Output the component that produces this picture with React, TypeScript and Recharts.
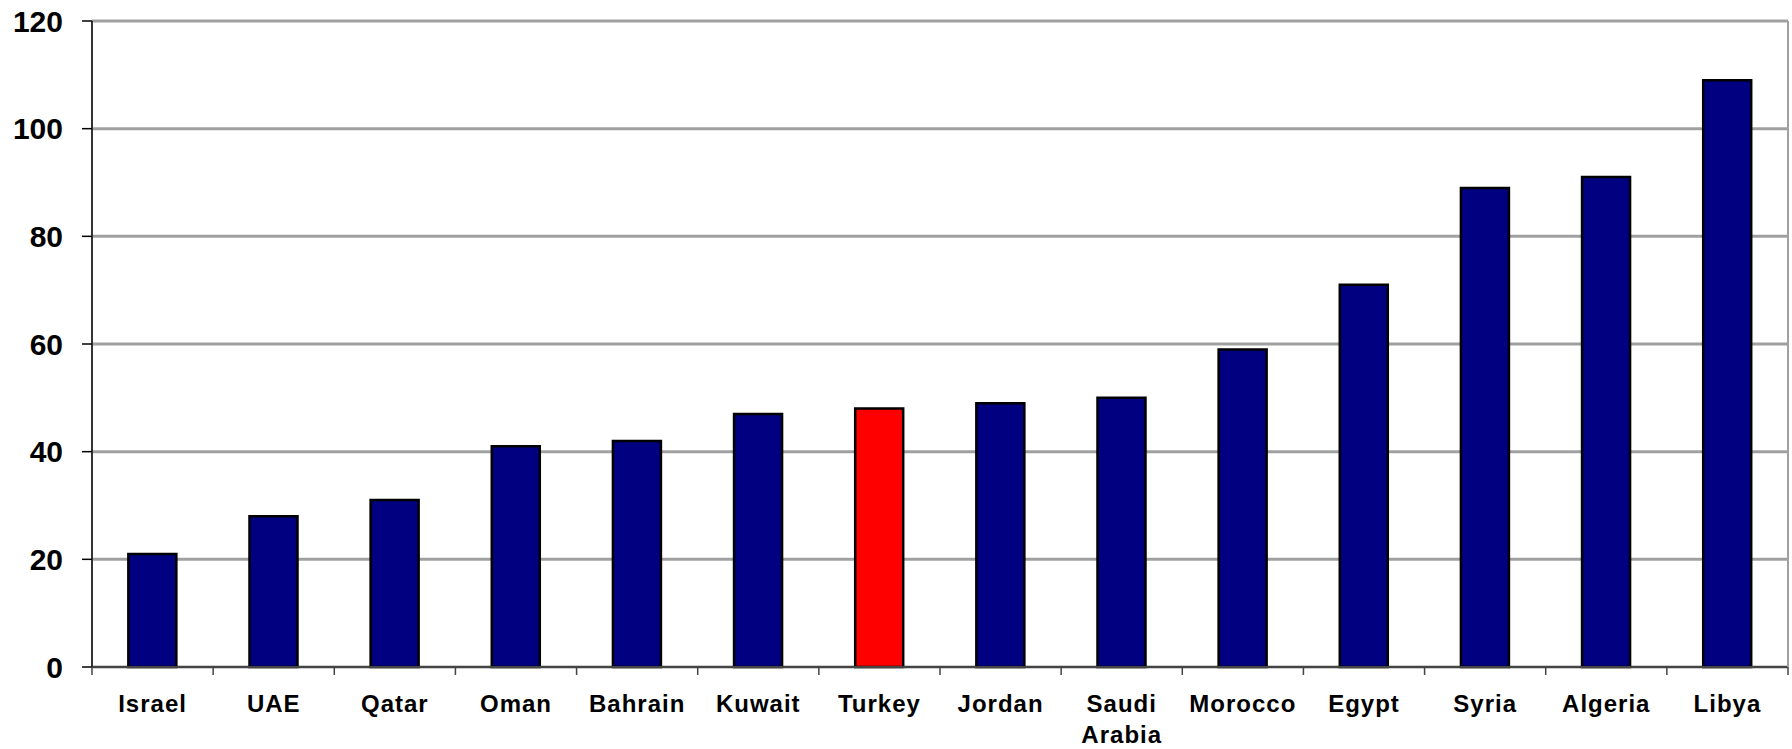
import React from 'react';
import { BarChart, Bar, Cell, XAxis, YAxis, CartesianGrid } from 'recharts';

const countries = ['Israel', 'UAE', 'Qatar', 'Oman', 'Bahrain', 'Kuwait', 'Turkey', 'Jordan', 'Saudi Arabia', 'Morocco', 'Egypt', 'Syria', 'Algeria', 'Libya'];
const values = [21, 28, 31, 41, 42, 47, 48, 49, 50, 59, 71, 89, 91, 109];
const yTicks = [0, 20, 40, 60, 80, 100, 120];
const highlight = 'Turkey';

const WIDTH = 1792;
const HEIGHT = 749;
const Y_AXIS_W = 92;
const RIGHT_W = 4;
const X_AXIS_H = 82;
const FONT = '"Liberation Sans", Arial, sans-serif';

const band = (WIDTH - Y_AXIS_W - RIGHT_W) / countries.length;

const data = countries.map((name, i) => ({ name, value: values[i] }));

// category labels, with the tick marks sitting on the boundaries between bars
const CountryTick = (props: any) => {
  const { x, y, payload, index } = props;
  const half = band / 2;
  const lines = String(payload.value).split(' ');
  return (
    <g>
      <line x1={x - half} y1={y} x2={x - half} y2={y + 8} stroke="#444" strokeWidth={1.5} />
      {index === countries.length - 1 && (
        <line x1={x + half} y1={y} x2={x + half} y2={y + 8} stroke="#444" strokeWidth={1.5} />
      )}
      <text
        x={x}
        y={y + 45}
        textAnchor="middle"
        fill="#000"
        fontFamily={FONT}
        fontWeight="bold"
        fontSize={24}
        letterSpacing={1}
      >
        {lines.map((l, i) => (
          <tspan key={l} x={x} dy={i === 0 ? 0 : 31}>
            {l}
          </tspan>
        ))}
      </text>
    </g>
  );
};

export default function App() {
  return (
    <div style={{ position: 'absolute', left: 0, top: 0, background: '#fff' }}>
      <BarChart
        width={WIDTH}
        height={HEIGHT}
        data={data}
        margin={{ top: 21, right: 0, bottom: 0, left: 0 }}
        barCategoryGap="30%"
      >
        <CartesianGrid vertical={false} stroke="#a0a0a0" strokeWidth={3} />
        <XAxis
          dataKey="name"
          height={X_AXIS_H}
          interval={0}
          tickLine={false}
          tickSize={0}
          tickMargin={0}
          axisLine={{ stroke: '#444', strokeWidth: 2 }}
          tick={<CountryTick />}
        />
        <YAxis
          width={Y_AXIS_W}
          domain={[0, 120]}
          ticks={yTicks}
          interval={0}
          tickSize={10}
          tickMargin={19}
          axisLine={{ stroke: '#333', strokeWidth: 2 }}
          tickLine={{ stroke: '#000', strokeWidth: 1.5 }}
          tick={{ fill: '#000', fontSize: 30, fontWeight: 'bold', fontFamily: FONT }}
        />
        <YAxis
          yAxisId="frame"
          orientation="right"
          width={RIGHT_W}
          domain={[0, 120]}
          tick={false}
          tickLine={false}
          axisLine={{ stroke: '#a0a0a0', strokeWidth: 2 }}
        />
        <Bar dataKey="value" stroke="#000" strokeWidth={2.5} isAnimationActive={false}>
          {data.map((d) => (
            <Cell key={d.name} fill={d.name === highlight ? '#ff0000' : '#000080'} />
          ))}
        </Bar>
      </BarChart>
    </div>
  );
}
